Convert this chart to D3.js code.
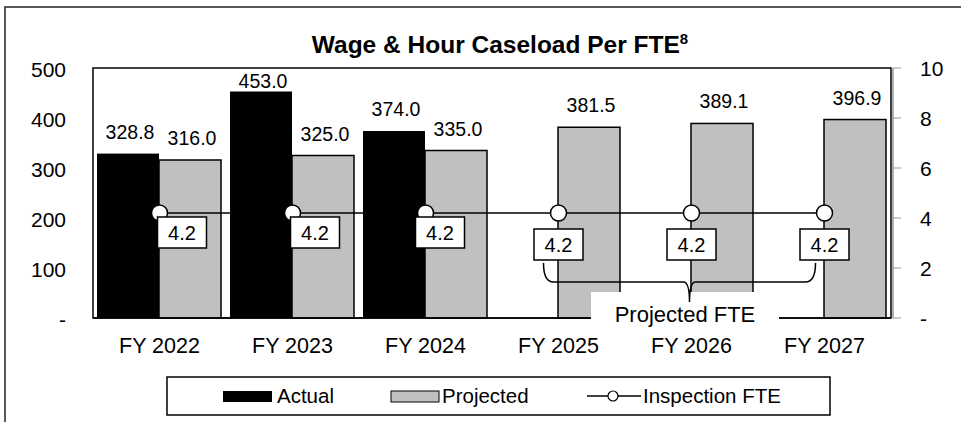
<!DOCTYPE html>
<html>
<head>
<meta charset="utf-8">
<script src="https://cdn.jsdelivr.net/npm/d3@7"></script>
<style>
  body { margin: 0; background: #fff; }
  text { font-family: Arial, "Liberation Sans", sans-serif; fill: #000; }
</style>
</head>
<body>
<div class="app"></div>
<script>
// Chart data.
var years = ["FY 2022", "FY 2023", "FY 2024", "FY 2025", "FY 2026", "FY 2027"];
var actual = [328.8, 453.0, 374.0, null, null, null];
var projected = [316.0, 325.0, 335.0, 381.5, 389.1, 396.9];
var fte = [4.2, 4.2, 4.2, 4.2, 4.2, 4.2];
var leftTicks = [0, 100, 200, 300, 400, 500];
var rightTicks = [0, 2, 4, 6, 8, 10];

var W = 961, H = 422;
var plot = {left: 93, right: 891, top: 68, bottom: 318};

var svg = d3.select(".app").append("svg")
    .attr("width", W)
    .attr("height", H);

// outer frame (runs off the picture on right / bottom)
svg.append("rect")
    .attr("x", 5).attr("y", 7)
    .attr("width", 1000).attr("height", 600)
    .attr("fill", "none").attr("stroke", "#222").attr("stroke-width", 1.5);

// scales
var x = d3.scaleBand().domain(years).range([plot.left, plot.right]).paddingInner(0).paddingOuter(0);
var y = d3.scaleLinear().domain([0, 500]).range([plot.bottom, plot.top]);
var y2 = d3.scaleLinear().domain([0, 10]).range([plot.bottom, plot.top]);
var barW = 62, gap = 4;

function fmt(v) { return v === 0 ? "-" : d3.format(".0f")(v); }

// title
var title = svg.append("text")
    .attr("x", 500).attr("y", 53)
    .attr("text-anchor", "middle")
    .style("font-size", "24.5px").style("font-weight", "bold");
title.append("tspan").text("Wage & Hour Caseload Per FTE");
title.append("tspan").attr("dy", -9).style("font-size", "15px").text("8");

// left axis labels
svg.append("g").selectAll("text")
    .data(leftTicks).enter().append("text")
    .attr("x", 66).attr("y", function(d){ return y(d) + 9; })
    .attr("text-anchor", "end")
    .style("font-size", "21px")
    .text(fmt);

// plot area border
svg.append("rect")
    .attr("x", plot.left).attr("y", plot.top)
    .attr("width", plot.right - plot.left).attr("height", plot.bottom - plot.top)
    .attr("fill", "#fff").attr("stroke", "#000").attr("stroke-width", 1.5);

// right axis
var ra = svg.append("g");
ra.append("line")
    .attr("x1", 893).attr("x2", 893)
    .attr("y1", y2(0)).attr("y2", y2(10))
    .attr("stroke", "#999").attr("stroke-width", 1.5);
ra.selectAll("line.tk").data(rightTicks).enter().append("line")
    .attr("class", "tk")
    .attr("x1", 893).attr("x2", 901)
    .attr("y1", function(d){ return y2(d); }).attr("y2", function(d){ return y2(d); })
    .attr("stroke", "#999").attr("stroke-width", 1);
ra.selectAll("text").data(rightTicks).enter().append("text")
    .attr("x", 920).attr("y", function(d){ return y2(d) + 8; })
    .style("font-size", "21px")
    .text(fmt);

// bars
var bars = svg.append("g");
bars.selectAll("rect.actual")
    .data(years.map(function(c, i){ return {c: c, v: actual[i]}; }).filter(function(d){ return d.v != null; }))
    .enter().append("rect")
    .attr("class", "actual")
    .attr("x", function(d){ return x(d.c) + gap; })
    .attr("y", function(d){ return y(d.v); })
    .attr("width", barW)
    .attr("height", function(d){ return y(0) - y(d.v); })
    .attr("fill", "#000");

bars.selectAll("rect.proj")
    .data(years.map(function(c, i){ return {c: c, v: projected[i]}; }))
    .enter().append("rect")
    .attr("class", "proj")
    .attr("x", function(d){ return x(d.c) + gap + barW; })
    .attr("y", function(d){ return y(d.v); })
    .attr("width", barW)
    .attr("height", function(d){ return y(0) - y(d.v); })
    .attr("fill", "#c0c0c0").attr("stroke", "#000").attr("stroke-width", 1.5);

// redraw the bottom border over the bars
svg.append("line")
    .attr("x1", plot.left).attr("x2", plot.right)
    .attr("y1", plot.bottom).attr("y2", plot.bottom)
    .attr("stroke", "#000").attr("stroke-width", 1.5);

// bar value labels
function labelY(v) { return Math.max(y(v) - 15, 88); }
svg.append("g").selectAll("text.al")
    .data(years.map(function(c, i){ return {c: c, v: actual[i]}; }).filter(function(d){ return d.v != null; }))
    .enter().append("text")
    .attr("x", function(d){ return x(d.c) + gap + barW / 2 + 2; })
    .attr("y", function(d){ return labelY(d.v); })
    .attr("text-anchor", "middle")
    .style("font-size", "19.5px")
    .text(function(d){ return d3.format(".1f")(d.v); });
svg.append("g").selectAll("text.pl")
    .data(years.map(function(c, i){ return {c: c, v: projected[i]}; }))
    .enter().append("text")
    .attr("x", function(d){ return x(d.c) + gap + barW * 1.5 + 2; })
    .attr("y", function(d){ return labelY(d.v); })
    .attr("text-anchor", "middle")
    .style("font-size", "19.5px")
    .text(function(d){ return d3.format(".1f")(d.v); });

// FTE line
var cx = function(i){ return x(years[i]) + x.bandwidth() / 2; };
var line = d3.line()
    .x(function(d, i){ return cx(i); })
    .y(function(d){ return y2(d); });
svg.append("path")
    .datum(fte)
    .attr("d", line)
    .attr("fill", "none").attr("stroke", "#000").attr("stroke-width", 1.5);

// callout for projected FTE (years without actual data)
var projIdx = d3.range(years.length).filter(function(i){ return actual[i] == null; });
var bx0 = cx(projIdx[0]) - 15, bx1 = cx(projIdx[projIdx.length - 1]) - 9;
var bmid = cx(projIdx[Math.floor(projIdx.length / 2)]) - 2;
var by0 = y2(fte[projIdx[0]]) + 50, by1 = by0 + 19, tip = by1 + 20;

svg.append("rect")
    .attr("x", 591).attr("y", 292)
    .attr("width", 188).attr("height", 36)
    .attr("fill", "#fff");
svg.append("text")
    .attr("x", 685).attr("y", 322)
    .attr("text-anchor", "middle")
    .style("font-size", "22px")
    .text("Projected FTE");

var brace = d3.path();
brace.moveTo(bx0, by0);
brace.quadraticCurveTo(bx0, by1, bx0 + 10, by1);
brace.lineTo(bmid - 6, by1);
brace.quadraticCurveTo(bmid, by1, bmid, tip);
brace.quadraticCurveTo(bmid, by1, bmid + 6, by1);
brace.lineTo(bx1 - 10, by1);
brace.quadraticCurveTo(bx1, by1, bx1, by0);
svg.append("path")
    .attr("d", brace.toString())
    .attr("fill", "none").attr("stroke", "#000").attr("stroke-width", 1.5);

// FTE markers
svg.append("g").selectAll("circle")
    .data(fte).enter().append("circle")
    .attr("cx", function(d, i){ return cx(i); })
    .attr("cy", function(d){ return y2(d); })
    .attr("r", 8)
    .attr("fill", "#fff").attr("stroke", "#000").attr("stroke-width", 1.5);

// FTE value boxes
var boxW = 49, boxH = 31;
var fteLab = svg.append("g").selectAll("g")
    .data(fte).enter().append("g")
    .attr("transform", function(d, i){
        var bx, by;
        if (actual[i] == null) { bx = cx(i) - boxW / 2; by = y2(d) + 16; }
        else { bx = cx(i) - 2 - (i === 2 ? 8 : 0); by = y2(d) + 4; }
        return "translate(" + bx + "," + by + ")";
    });
fteLab.append("rect")
    .attr("width", boxW).attr("height", boxH)
    .attr("fill", "#fff").attr("stroke", "#000").attr("stroke-width", 1.5);
fteLab.append("text")
    .attr("x", boxW / 2).attr("y", 23)
    .attr("text-anchor", "middle")
    .style("font-size", "20px")
    .text(function(d){ return d3.format(".1f")(d); });

// category labels
svg.append("g").selectAll("text")
    .data(years).enter().append("text")
    .attr("x", function(d){ return x(d) + x.bandwidth() / 2; })
    .attr("y", 353)
    .attr("text-anchor", "middle")
    .style("font-size", "21.5px")
    .text(function(d){ return d; });

// legend
var lg = svg.append("g");
lg.append("rect")
    .attr("x", 167).attr("y", 377).attr("width", 663).attr("height", 38)
    .attr("fill", "#fff").attr("stroke", "#000").attr("stroke-width", 1.5);
lg.append("rect")
    .attr("x", 223).attr("y", 391).attr("width", 49).attr("height", 11)
    .attr("fill", "#000");
lg.append("text").attr("x", 277).attr("y", 403).style("font-size", "20.5px").text("Actual");
lg.append("rect")
    .attr("x", 391).attr("y", 391).attr("width", 48).attr("height", 11)
    .attr("fill", "#c0c0c0").attr("stroke", "#000").attr("stroke-width", 1);
lg.append("text").attr("x", 442).attr("y", 403).style("font-size", "20.5px").text("Projected");
lg.append("line")
    .attr("x1", 587).attr("x2", 641).attr("y1", 396).attr("y2", 396)
    .attr("stroke", "#000").attr("stroke-width", 1.5);
lg.append("circle")
    .attr("cx", 613).attr("cy", 396).attr("r", 5)
    .attr("fill", "#fff").attr("stroke", "#000").attr("stroke-width", 1.2);
lg.append("text").attr("x", 643).attr("y", 403).style("font-size", "20.5px").text("Inspection FTE");
</script>
</body>
</html>
